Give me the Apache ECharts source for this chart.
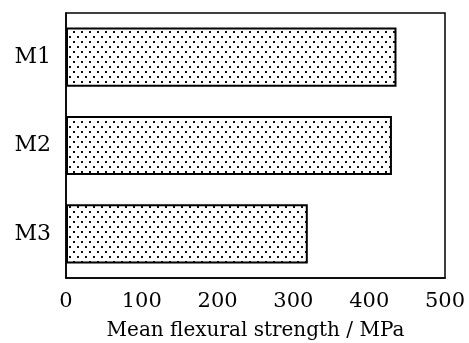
<!DOCTYPE html>
<html><head><meta charset="utf-8">
<script src="https://cdn.jsdelivr.net/npm/echarts@6/dist/echarts.min.js"></script>
<style>html,body{margin:0;padding:0;background:#fff}#c{width:469px;height:343px}</style>
</head><body><div id="c"></div>
<script>
const categories = ['M1', 'M2', 'M3'];
const strengthValues = [436, 430, 319];
const xTicks = [0, 100, 200, 300, 400, 500];
const axisTitle = 'Mean flexural strength / MPa';

function dotPattern() {
  const c = document.createElement('canvas');
  c.width = 8; c.height = 10;
  const g = c.getContext('2d');
  g.fillStyle = '#fff'; g.fillRect(0, 0, 8, 10);
  g.fillStyle = '#111';
  g.fillRect(1, 1, 2, 2);
  g.fillRect(5, 6, 2, 2);
  return c;
}

const chart = echarts.init(document.getElementById('c'), null, {renderer: 'canvas'});
const font = 'DejaVu Serif';
chart.setOption({
  animation: false,
  backgroundColor: '#fff',
  grid: {left: 66, right: 24, top: 13, bottom: 65, outerBoundsMode: 'none', containLabel: false, show: true, borderColor: '#000', borderWidth: 1.5, backgroundColor: 'transparent'},
  xAxis: {
    type: 'value', min: xTicks[0], max: xTicks[xTicks.length - 1], interval: xTicks[1] - xTicks[0],
    axisLine: {show: true, lineStyle: {color: '#000', width: 1.5}},
    axisTick: {show: false}, splitLine: {show: false},
    axisLabel: {color: '#000', fontFamily: font, fontSize: 21, margin: 13},
    name: axisTitle, nameLocation: 'middle', nameGap: 43,
    nameTextStyle: {color: '#000', fontFamily: font, fontSize: 20}
  },
  yAxis: {
    type: 'category', data: categories, inverse: true,
    axisLine: {show: true, lineStyle: {color: '#000', width: 1.5}},
    axisTick: {show: false},
    axisLabel: {color: '#000', fontFamily: font, fontSize: 22, margin: 15}
  },
  series: [{
    type: 'bar', data: strengthValues, barCategoryGap: '33%',
    itemStyle: {color: {image: dotPattern(), repeat: 'repeat'}, borderColor: '#000', borderWidth: 2}
  }]
});
</script></body></html>
